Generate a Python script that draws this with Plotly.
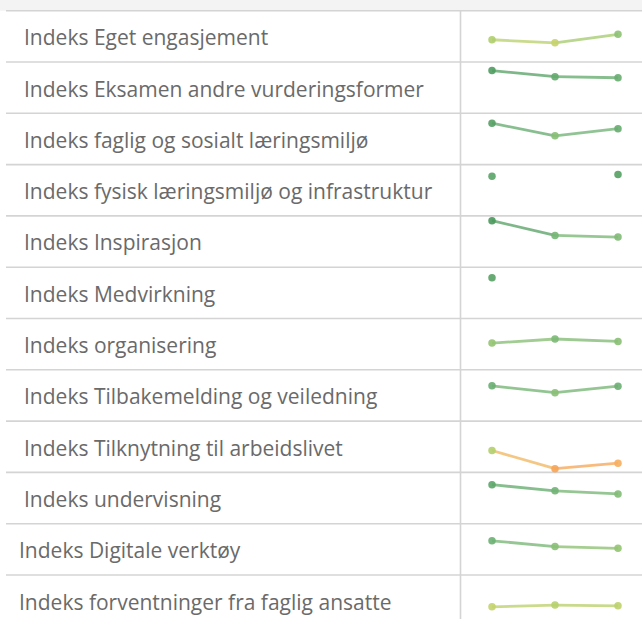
import plotly.graph_objects as go
from plotly.colors import sample_colorscale

# ---------------- data ----------------
labels = [
    "Indeks Eget engasjement",
    "Indeks Eksamen andre vurderingsformer",
    "Indeks faglig og sosialt læringsmiljø",
    "Indeks fysisk læringsmiljø og infrastruktur",
    "Indeks Inspirasjon",
    "Indeks Medvirkning",
    "Indeks organisering",
    "Indeks Tilbakemelding og veiledning",
    "Indeks Tilknytning til arbeidslivet",
    "Indeks undervisning",
    "Indeks Digitale verktøy",
    "Indeks forventninger fra faglig ansatte",
]
periods = ["2021", "2022", "2023"]

eget_engasjement = [3.65, 3.56, 3.81]
eksamen = [4.25, 4.07, 4.04]
laeringsmiljo = [4.21, 3.84, 4.05]
fysisk = [4.16, None, 4.21]
inspirasjon = [4.36, 3.93, 3.88]
medvirkning = [4.19, None, None]
organisering = [3.78, 3.90, 3.83]
tilbakemelding = [4.03, 3.83, 4.02]
arbeidslivet = [3.64, 3.11, 3.27]
undervisning = [4.14, 3.96, 3.87]
digitale = [4.00, 3.83, 3.78]
forventninger = [3.57, 3.62, 3.60]

series = [eget_engasjement, eksamen, laeringsmiljo, fysisk, inspirasjon,
          medvirkning, organisering, tilbakemelding, arbeidslivet,
          undervisning, digitale, forventninger]

# ---------------- style ----------------
W, H = 642, 619
TOP = 10.7
ROW_H = 51.3
VMAX, VMIN = 4.5, 3.0
CMIN, CMAX = 3.0, 4.3
cscale = [
    [0.0, "#f89c4e"],
    [0.27, "#f6b463"],
    [0.42, "#cad46a"],
    [0.54, "#a2cb70"],
    [0.73, "#72b477"],
    [1.0, "#4a985c"],
]
label_x = [22] * 10 + [17, 17]
font_family = "Open Sans"

fig = go.Figure()
layout_axes = {}
per_px = (VMAX - VMIN) / ROW_H


def color_for(v):
    t = (v - CMIN) / (CMAX - CMIN)
    t = min(max(t, 0), 1)
    return sample_colorscale(cscale, [t])[0]


for i, vals in enumerate(series):
    yname = "y" if i == 0 else f"y{i + 1}"
    axname = "yaxis" if i == 0 else f"yaxis{i + 1}"
    top_px = TOP + ROW_H * i
    bot_px = min(top_px + ROW_H, H)
    lo = VMAX - (bot_px - top_px) * per_px
    layout_axes[axname] = dict(
        domain=[1 - bot_px / H, 1 - top_px / H],
        range=[lo, VMAX], visible=False, fixedrange=True, anchor="x",
    )
    # line segments coloured by value
    for j in range(len(vals) - 1):
        a, b = vals[j], vals[j + 1]
        if a is None or b is None:
            continue
        fig.add_trace(go.Scatter(
            x=[periods[j], periods[j + 1]], y=[a, b], mode="lines",
            line=dict(color=color_for((a + b) / 2), width=2.8),
            opacity=0.78, yaxis=yname, xaxis="x", hoverinfo="skip",
            showlegend=False, cliponaxis=False,
        ))
    xs = [p for p, v in zip(periods, vals) if v is not None]
    ys = [v for v in vals if v is not None]
    fig.add_trace(go.Scatter(
        x=xs, y=ys, mode="markers",
        marker=dict(size=7.5, color=ys, colorscale=cscale, cmin=CMIN,
                    cmax=CMAX, opacity=0.9, line=dict(width=0)),
        yaxis=yname, xaxis="x", showlegend=False, cliponaxis=False,
    ))

shapes = [
    dict(type="rect", xref="paper", yref="paper", x0=0, x1=1,
         y0=1 - TOP / H, y1=1, fillcolor="#f3f3f3", line=dict(width=0),
         layer="below"),
]
for k in range(12):
    py = TOP + ROW_H * k
    shapes.append(dict(type="line", xref="paper", yref="paper",
                       x0=6 / W, x1=1, y0=1 - py / H, y1=1 - py / H,
                       line=dict(color="#d4d4d4", width=1.6), layer="below"))
shapes.append(dict(type="line", xref="paper", yref="paper",
                   x0=460.5 / W, x1=460.5 / W, y0=0, y1=1 - TOP / H,
                   line=dict(color="#d4d4d4", width=1.6), layer="below"))

annotations = []
for i, lab in enumerate(labels):
    cy = TOP + ROW_H * i + 26.5
    annotations.append(dict(
        text=lab, xref="paper", yref="paper", x=label_x[i] / W,
        y=1 - cy / H, xanchor="left", yanchor="middle", showarrow=False,
        font=dict(family=font_family, size=21, color="#6a6a6a"),
    ))

# x axis: 3 periods at px 492, 555, 618
x0_px, step_px = 492, 63
dom_l, dom_r = 460 / W, 1.0
fig.update_layout(
    width=W, height=H,
    margin=dict(l=0, r=0, t=0, b=0),
    paper_bgcolor="white", plot_bgcolor="rgba(0,0,0,0)",
    xaxis=dict(domain=[dom_l, dom_r], type="category",
               range=[-(x0_px - 460) / step_px, 2 + (W - 618) / step_px],
               visible=False, fixedrange=True),
    shapes=shapes, annotations=annotations,
    **layout_axes,
)
fig.write_html("out.html", config={"displayModeBar": False},
               post_script="document.body.style.margin='0';")
